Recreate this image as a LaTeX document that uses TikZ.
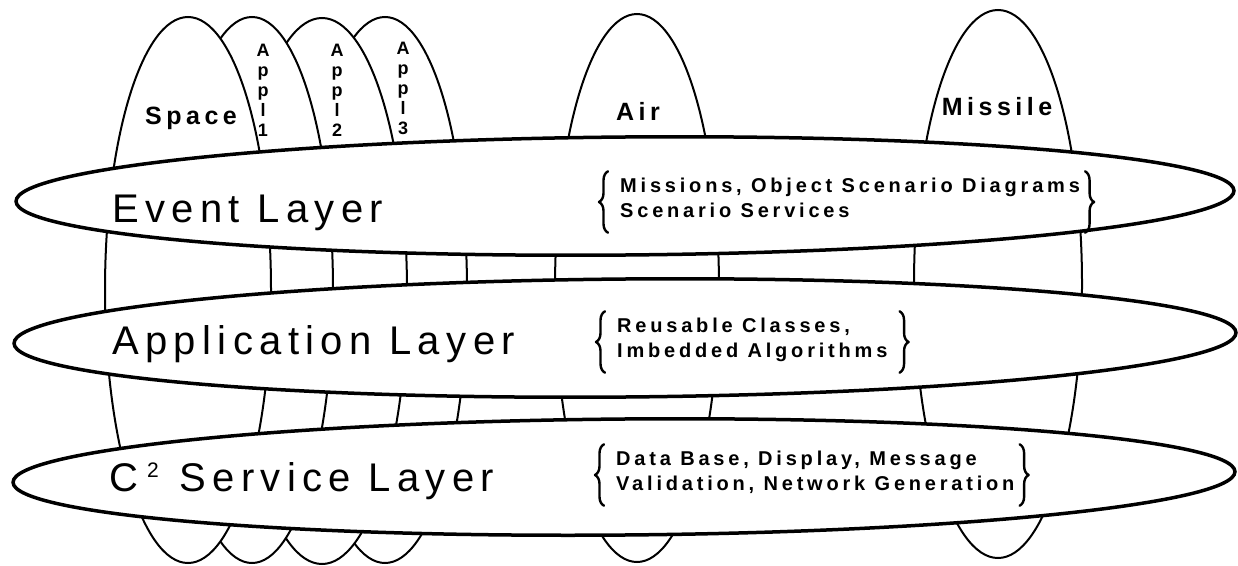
\documentclass[tikz,border=0pt]{standalone}
\usepackage{fontspec}
\setmainfont{Liberation Sans}
\newfontfamily\layfont[LetterSpace=16]{Liberation Sans}
\newfontfamily\txtfont[LetterSpace=19]{Liberation Sans}
\newfontfamily\lblfont[LetterSpace=18]{Liberation Sans}
\newfontfamily\plainfont{Liberation Sans}
\usetikzlibrary{decorations.pathreplacing,calc}
\begin{document}
\begin{tikzpicture}[x=1pt,y=-1pt,
  lay/.style={draw=black,line width=3.5pt,fill=white},
  col/.style={draw=black,line width=2pt,fill=white},
  laylabel/.style={inner sep=0pt,anchor=base west,font=\layfont\fontsize{40}{48}\selectfont},
  domlabel/.style={inner sep=0pt,anchor=base,font=\lblfont\bfseries\fontsize{25}{29}\selectfont},
  appllabel/.style={inner sep=0pt,anchor=north,align=center,font=\plainfont\bfseries\fontsize{18}{20}\selectfont},
  desc/.style={inner sep=0pt,anchor=base west,font=\txtfont\bfseries\fontsize{20}{25}\selectfont},
  curly/.style={decorate,decoration={brace,amplitude=9pt},line width=2.4pt,line cap=round,line join=round}
]
\fill[white] (0,0) rectangle (1238,565);
\useasboundingbox (0,0) rectangle (1238,565);

% vertical domain ellipses (back to front)
\path[col] (385,290) ellipse [x radius=82pt, y radius=273pt];
\path[col] (322,291) ellipse [x radius=85pt, y radius=273pt];
\path[col] (252,290) ellipse [x radius=81pt, y radius=273pt];
\path[col] (188,290) ellipse [x radius=83pt, y radius=273pt];
\path[col] (637,288) ellipse [x radius=82pt, y radius=274pt];
\path[col] (998,284) ellipse [x radius=84pt, y radius=274pt];

% domain labels
\node[domlabel] (space) at (191,124) {Space};
\node[domlabel] (air) at (638,120) {Air};
\node[domlabel] (missile) at (997,115) {Missile};
\node[appllabel] (appl1) at (263,44) {A\\p\\p\\l\\1};
\node[appllabel] (appl2) at (337,44) {A\\p\\p\\l\\2};
\node[appllabel] (appl3) at (403,42) {A\\p\\p\\l\\3};

% layer ellipses
\path[lay, rotate around={0.5:(625,196)}] (625,196) ellipse [x radius=609pt, y radius=59pt];
\path[lay, rotate around={0.5:(625,338)}] (625,338) ellipse [x radius=611pt, y radius=59pt];
\path[lay, rotate around={0.5:(624,477)}] (624,477) ellipse [x radius=611pt, y radius=58pt];

% layer labels
\node[laylabel] (evlab) at (112,222) {Event Layer};
\node[laylabel] (aplab) at (112,354) {Application Layer};
\node[laylabel] (c2lab) at (109,491) {C\hspace{9pt}\raisebox{14pt}{\fontsize{21}{21}\selectfont 2}\hspace{3pt} Service Layer};

% descriptions
\node[desc] (evtxt) at (620,192) {\begin{tabular}[t]{@{}l@{}}Missions, Object Scenario Diagrams\\Scenario Services\end{tabular}};
\node[desc] (aptxt) at (617,332) {\begin{tabular}[t]{@{}l@{}}Reusable Classes,\\Imbedded Algorithms\end{tabular}};
\node[desc] (c2txt) at (616,465) {\begin{tabular}[t]{@{}l@{}}Data Base, Display, Message\\Validation, Network Generation\end{tabular}};

% braces
\draw[curly] ($(evtxt.south west)+(-12,8)$) -- ($(evtxt.north west)+(-12,-3)$);
\draw[curly] ($(evtxt.north east)+(5,-3)$) -- ($(evtxt.south east)+(5,8)$);
\draw[curly] ($(aptxt.south west)+(-12,8)$) -- ($(aptxt.north west)+(-12,-3)$);
\draw[curly] ($(aptxt.north east)+(12,-3)$) -- ($(aptxt.south east)+(12,8)$);
\draw[curly] ($(c2txt.south west)+(-12,8)$) -- ($(c2txt.north west)+(-12,-3)$);
\draw[curly] ($(c2txt.north east)+(5,-3)$) -- ($(c2txt.south east)+(5,8)$);
\end{tikzpicture}
\end{document}
